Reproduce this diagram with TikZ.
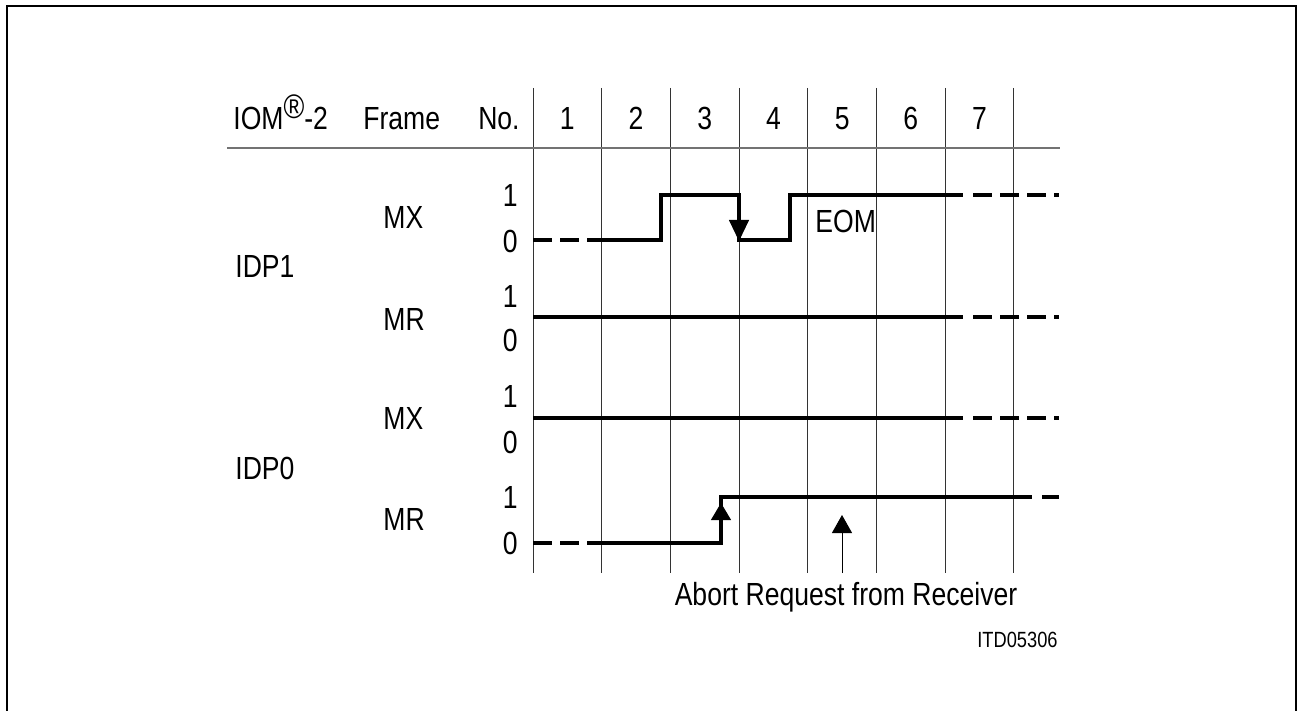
\documentclass[tikz,border=0pt]{standalone}
\usepackage{fontspec}
\setmainfont[FakeStretch=0.83]{Liberation Sans}
\usetikzlibrary{arrows.meta}
\begin{document}
\begin{tikzpicture}[x=0.5pt, y=-0.5pt, >=latex,
        lbl/.style={inner sep=0pt, font=\fontsize{16}{19}\selectfont},
        wave/.style={line width=2.4pt, line join=miter},
        dashwave/.style={wave, dash pattern=on 9.5pt off 4pt},
        gridline/.style={line width=0.5pt, black!80},
        tip/.style={line width=0.5pt, -{Triangle[width=10pt,length=#1]}}]
    \useasboundingbox (0,0) rectangle (1297,711);
    \clip (0,0) rectangle (1297,711);
    \draw[line width=1.3pt] (7,720) -- (7,6) -- (1296,6) -- (1296,720);
    % frame grid
    \foreach \i in {0,...,7}
        \draw[gridline] (533+68.7*\i,88) -- (533+68.7*\i,573);
    \draw[line width=1pt, black!55] (227,148) -- (1060,148);
    % header
    \draw (233,130)node[lbl, anchor=base west, name=iom]{IOM\raisebox{5.5pt}{\fontsize{17}{17}\selectfont\textregistered}-2};
    \draw (363,130)node[lbl, anchor=base west, name=frame]{Frame};
    \draw (520,130)node[lbl, anchor=base east, name=no]{No.};
    \foreach \n in {1,...,7}
        \draw (533+68.7*\n-34.35,130)node[lbl, anchor=base, name=col\n]{\n};
    % left labels
    \draw (235,266)node[lbl, anchor=west, name=idpa]{IDP1};
    \draw (235,468)node[lbl, anchor=west, name=idpb]{IDP0};
    \draw (383,217)node[lbl, anchor=west, name=mxa]{MX};
    \draw (383,319)node[lbl, anchor=west, name=mra]{MR};
    \draw (383,418)node[lbl, anchor=west, name=mxb]{MX};
    \draw (383,519)node[lbl, anchor=west, name=mrb]{MR};
    \foreach \hi/\lo [count=\r] in {195/241, 296/340, 396/442, 497/543} {
        \draw (518,\hi)node[lbl, anchor=east, name=one\r]{1};
        \draw (518,\lo)node[lbl, anchor=east, name=zero\r]{0};
    }
    % IDP1 MX
    \draw[dashwave] (533,240) -- (601,240);
    \draw[wave] (588,240) -- (661,240) -- (661,195) -- (739,195) -- (739,240)
        -- (790,240) -- (790,195) -- (963,195);
    \draw[dashwave] (973,195) -- (1059,195);
    \draw[tip=10.5pt] (739,215) -- (739,241);
    \draw (815,221)node[lbl, anchor=west, name=eom]{EOM};
    % IDP1 MR, IDP0 MX
    \foreach \y in {317, 418} {
        \draw[wave] (533,\y) -- (963,\y);
        \draw[dashwave] (973,\y) -- (1059,\y);
    }
    % IDP0 MR
    \draw[dashwave] (533,543) -- (601,543);
    \draw[wave] (588,543) -- (721,543) -- (721,497) -- (1032,497);
    \draw[dashwave] (1042,497) -- (1059,497);
    \draw[tip=8.5pt] (721,530) -- (721,503);
    % abort
    \draw (846,605)node[lbl, anchor=base, name=abort]{Abort Request from Receiver};
    \coordinate (abfoot) at (842,573);
    \coordinate (abtip) at (842,515);
    \draw[tip=9pt] (abfoot) -- (abtip);
    \draw (1058,647)node[inner sep=0pt, anchor=base east, font=\fontsize{11}{13}\selectfont, name=itd]{ITD05306};
\end{tikzpicture}
\end{document}
